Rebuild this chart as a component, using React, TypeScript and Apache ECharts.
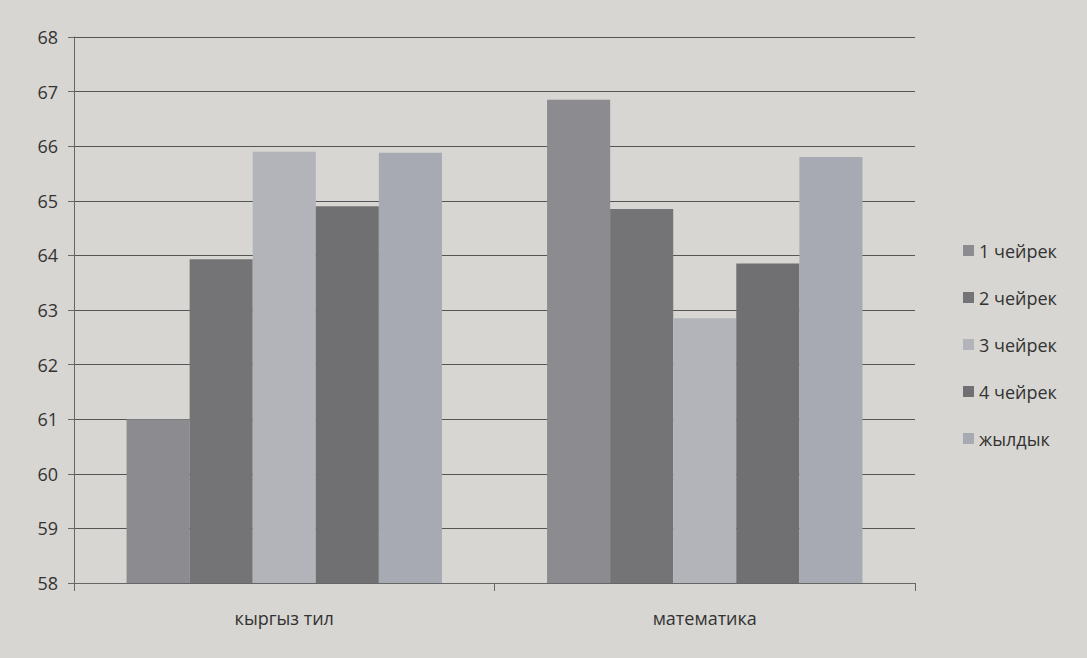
import React, { useEffect, useRef } from "react";
import * as echarts from "echarts";

const categories = ["кыргыз тил", "математика"];
const seriesNames = ["1 чейрек", "2 чейрек", "3 чейрек", "4 чейрек", "жылдык"];
const q1 = [61.0, 66.85];
const q2 = [63.93, 64.85];
const q3 = [65.9, 62.85];
const q4 = [64.9, 63.85];
const year = [65.88, 65.8];
const colors = ["#8b8b90", "#747476", "#b3b4ba", "#707073", "#a8aab3"];

export default function App() {
  const ref = useRef<HTMLDivElement>(null);
  useEffect(() => {
    document.body.style.margin = "0";
    const chart = echarts.init(ref.current!, undefined, { renderer: "svg" });
    const values = [q1, q2, q3, q4, year];
    chart.setOption({
      animation: false,
      backgroundColor: "#d7d6d2",
      textStyle: { fontFamily: "Open Sans" },
      grid: { left: 74, right: 172, top: 37, bottom: 75 },
      legend: {
        orient: "vertical",
        left: 958,
        top: 235,
        itemGap: 26,
        itemWidth: 11,
        itemHeight: 11,
        icon: "rect",
        textStyle: { fontSize: 18, color: "#333", fontFamily: "Open Sans", lineHeight: 21 },
        data: seriesNames,
      },
      xAxis: {
        type: "category",
        data: categories,
        axisLine: { lineStyle: { color: "#666", width: 1 } },
        axisTick: { show: true, length: 8, lineStyle: { color: "#666" } },
        axisLabel: { fontSize: 18, color: "#333", margin: 26 },
      },
      yAxis: {
        type: "value",
        min: 58,
        max: 68,
        interval: 1,
        axisLine: { show: true, lineStyle: { color: "#666", width: 1 } },
        axisTick: { show: true, length: 6, lineStyle: { color: "#666" } },
        axisLabel: { fontSize: 18, color: "#333", margin: 16 },
        splitLine: { lineStyle: { color: "#555", width: 1 } },
      },
      series: seriesNames.map((n, i) => ({
        name: n,
        type: "bar",
        data: values[i],
        barGap: "0%",
        barCategoryGap: "25%",
        itemStyle: { color: colors[i] },
      })),
    });
    return () => chart.dispose();
  }, []);
  return <div ref={ref} style={{ position: "absolute", left: 0, top: 0, width: 1087, height: 658 }} />;
}
